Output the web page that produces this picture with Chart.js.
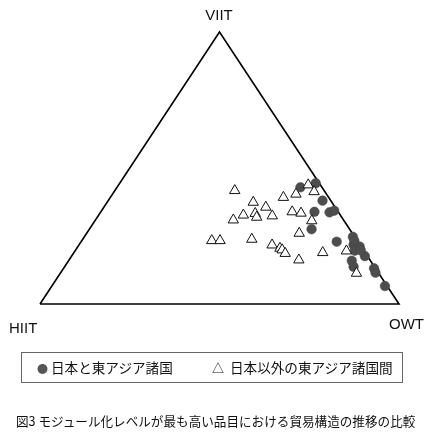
<!DOCTYPE html>
<html>
<head>
<meta charset="utf-8">
<script src="https://cdn.jsdelivr.net/npm/chart.js@4.4.1/dist/chart.umd.min.js"></script>
<style>
  html, body { margin:0; padding:0; background:#fff; }
  #wrap { position:relative; width:430px; height:440px; overflow:hidden; }
  #c { position:absolute; left:0; top:0; }
  .lbl { position:absolute; font-family:"Liberation Sans", Arial, sans-serif; font-size:15px; color:#111; line-height:1; white-space:nowrap; }
  #legend { position:absolute; left:21px; top:352px; width:382px; height:31px; border:1px solid #666; box-sizing:border-box;
            font-family:"Noto Sans CJK JP", sans-serif; font-size:13.6px; color:#111; }
  #legend span { position:absolute; top:50%; transform:translateY(-50%); white-space:nowrap; line-height:1; }
  #caption { position:absolute; left:16px; top:415px; font-family:"Noto Sans CJK JP", sans-serif; font-size:12.6px; color:#111; white-space:nowrap; line-height:1; }
</style>
</head>
<body>
<div id="wrap">
  <canvas id="c" width="430" height="440"></canvas>
  <div class="lbl" style="left:219px; top:7px; transform:translateX(-50%);">VIIT</div>
  <div class="lbl" style="left:9px; top:320px;">HIIT</div>
  <div class="lbl" style="left:389px; top:316px;">OWT</div>
  <div id="legend">
    <span style="left:15px; color:#555; font-size:11px;">●</span>
    <span style="left:29px;">日本と東アジア諸国</span>
    <span style="left:190px; font-size:12px;">△</span>
    <span style="left:208px;">日本以外の東アジア諸国間</span>
  </div>
  <div id="caption">図3 モジュール化レベルが最も高い品目における貿易構造の推移の比較</div>
</div>
<script>
// Ternary axes (corner labels)
const corners = ["HIIT", "VIIT", "OWT"];

// Series 1: 日本と東アジア諸国 (shares in %: HIIT, VIIT, OWT)
const japanHIIT = [6.0, 1.0, 2.3, 6.6, 2.5, 0.9, 10.6, 5.9, 0.5, 1.8, 0.4, 2.5, 0.7, 5.2, 5.8, 0.4, 0.8, 0.6, 0.8, 0.8];
const japanVIIT = [42.9, 44.4, 38.0, 33.9, 33.7, 34.3, 27.5, 22.9, 24.7, 21.7, 21.1, 19.6, 17.6, 15.9, 13.7, 13.1, 11.5, 6.6, 23.3, 19.7];
const japanOWT  = [51.1, 54.6, 59.7, 59.5, 63.8, 64.8, 61.9, 71.2, 74.8, 76.5, 78.5, 77.9, 81.7, 78.9, 80.5, 86.5, 87.7, 92.8, 75.9, 79.5];

// Series 2: 日本以外の東アジア諸国間
const otherHIIT = [24.9, 12.6, 8.5, 3.4, 3.0, 21.9, 19.3, 27.0, 23.4, 23.7, 19.1, 30.7, 12.8, 10.6, 9.0, 14.8, 40.5, 38.2, 29.1, 24.5, 22.9, 22.6, 22.4, 19.8, 11.8, 4.9, 6.2];
const otherVIIT = [41.7, 39.2, 40.4, 43.8, 41.3, 37.4, 35.6, 32.7, 33.3, 31.9, 32.4, 30.9, 33.9, 33.4, 30.6, 26.0, 23.3, 23.3, 23.8, 21.7, 20.5, 19.9, 18.6, 16.2, 18.9, 19.5, 11.3];
const otherOWT  = [33.4, 48.2, 51.1, 52.8, 55.7, 40.7, 45.1, 40.3, 43.3, 44.4, 48.5, 38.4, 53.3, 56.0, 60.4, 59.2, 36.2, 38.5, 47.1, 53.8, 56.6, 57.5, 59.0, 64.0, 69.3, 75.6, 82.5];

const seriesNames = ["日本と東アジア諸国", "日本以外の東アジア諸国間"];

// ternary -> cartesian (HIIT corner bottom-left, OWT bottom-right, VIIT top)
function toXY(h, v, o) {
  const s = h + v + o;
  const vv = v / s, oo = o / s;
  return { x: oo + vv / 2, y: vv };
}
function build(H, V, O) { return H.map((h, i) => toXY(h, V[i], O[i])); }

const frame = [toXY(100,0,0), toXY(0,0,100), toXY(0,100,0), toXY(100,0,0)];

new Chart(document.getElementById('c'), {
  type: 'scatter',
  data: {
    datasets: [
      {
        label: seriesNames[1],
        data: build(otherHIIT, otherVIIT, otherOWT),
        pointStyle: 'triangle',
        pointRadius: 6,
        backgroundColor: '#ffffff',
        borderColor: '#111111',
        borderWidth: 1,
        clip: false,
        order: 1
      },
      {
        label: seriesNames[0],
        data: build(japanHIIT, japanVIIT, japanOWT),
        pointStyle: 'circle',
        pointRadius: 4.8,
        backgroundColor: '#4d4d4d',
        borderColor: '#444444',
        borderWidth: 0.5,
        clip: false,
        order: 2
      },
      {
        label: 'frame',
        data: frame,
        showLine: true,
        pointRadius: 0,
        borderColor: '#000000',
        borderWidth: 1.6,
        borderJoinStyle: 'miter',
        fill: false,
        clip: false,
        order: 3
      }
    ]
  },
  options: {
    responsive: false,
    animation: false,
    layout: { padding: { left: 40, right: 31, top: 32, bottom: 136 } },
    scales: {
      x: { type: 'linear', min: 0, max: 1, display: false },
      y: { type: 'linear', min: 0, max: 1, display: false }
    },
    plugins: { legend: { display: false }, tooltip: { enabled: false } }
  }
});
</script>
</body>
</html>
